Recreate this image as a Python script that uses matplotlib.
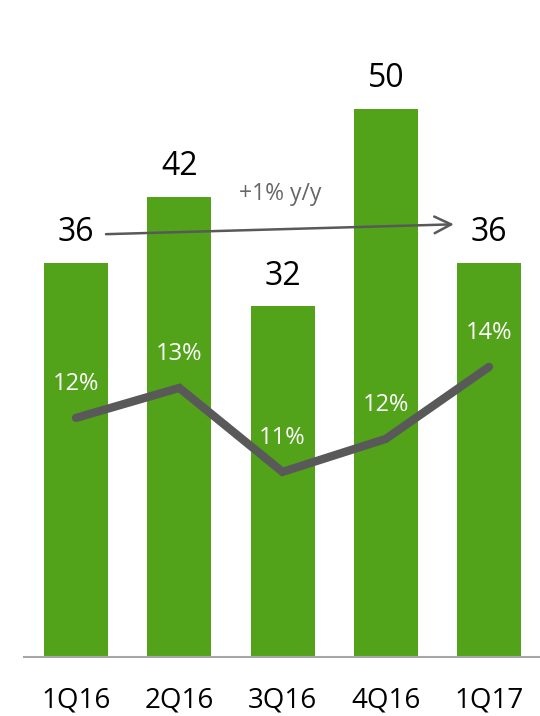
import matplotlib
matplotlib.use("Agg")
import matplotlib.pyplot as plt

quarters = ["1Q16", "2Q16", "3Q16", "4Q16", "1Q17"]
revenue = [36, 42, 32, 50, 36]
margin = [12.4, 13.4, 10.6, 11.7, 14.1]
margin_labels = ["12%", "13%", "11%", "12%", "14%"]
growth_text = "+1% y/y"

GREEN = "#52a31a"
GREY = "#595959"

plt.rcParams["font.family"] = ["Open Sans", "DejaVu Sans"]

fig = plt.figure(figsize=(5.4, 7.16), dpi=100)
ax = fig.add_axes([24 / 540, 59 / 716, 1 - 24 / 540, 597 / 716])
x = list(range(len(quarters)))

ax.bar(x, revenue, width=0.62, color=GREEN, zorder=2)
ax.set_xlim(-0.504, 4.494)
ax.set_ylim(0, 54.5)

for xi, v in zip(x, revenue):
    ax.annotate(str(v), (xi, v), xytext=(0, 10), textcoords="offset points",
                ha="center", va="bottom", fontsize=23, color="black")

# growth arrow across the first and last quarter
ax.annotate("", xy=(3.66, 39.5), xytext=(0.29, 38.6),
            arrowprops=dict(arrowstyle="->", color=GREY, lw=1.8,
                            mutation_scale=30, shrinkA=0, shrinkB=0))
ax.text(1.98, 42.3, growth_text, ha="center", va="center", fontsize=16.5, color="#666666")

for s in ["top", "right", "left"]:
    ax.spines[s].set_visible(False)
ax.spines["bottom"].set_color("#a6a6a6")
ax.spines["bottom"].set_linewidth(1.5)
ax.set_yticks([])
ax.set_xticks(x)
ax.set_xticklabels(quarters, fontsize=20)
ax.tick_params(axis="x", length=0, pad=21)

# margin line on a secondary scale
ax2 = ax.twinx()
ax2.set_ylim(4.43, 24.33)
ax2.plot(x, margin, color=GREY, lw=6, solid_capstyle="round", solid_joinstyle="miter", zorder=3)
for xi, v, lab in zip(x, margin, margin_labels):
    ax2.annotate(lab, (xi, v), xytext=(0, 24.5), textcoords="offset points",
                 ha="center", va="center", fontsize=17, color="white")
ax2.axis("off")

fig.savefig("out.png", dpi=100)
